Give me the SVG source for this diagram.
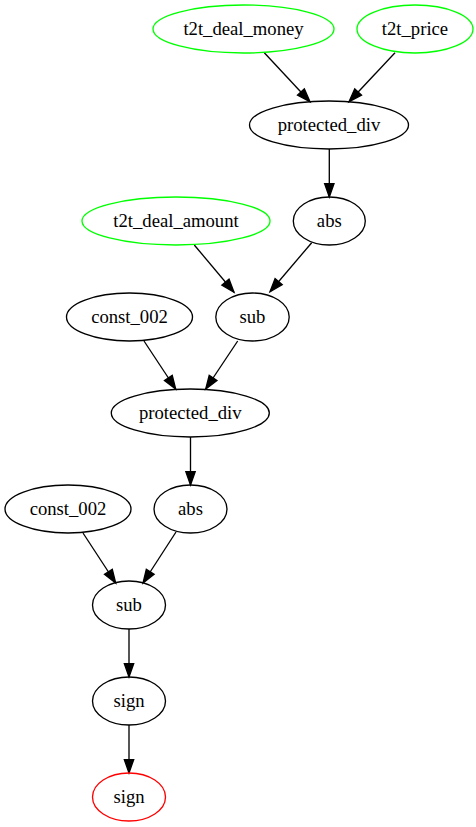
<svg xmlns="http://www.w3.org/2000/svg" width="476" height="827" viewBox="0 0 476 827">
<style>
.n ellipse{fill:none;stroke:#000;stroke-width:1.33}
.g ellipse{stroke:#00ff00}
.r ellipse{stroke:#ff0000}
text{font-family:"Liberation Serif","Times New Roman",serif;font-size:18.67px;text-anchor:middle;fill:#000}
.e line{stroke:#000;stroke-width:1.33;marker-end:url(#arr)}
</style>
<defs>
<marker id="arr" markerUnits="userSpaceOnUse" markerWidth="15" markerHeight="10" refX="13.33" refY="4.67" orient="auto" overflow="visible">
<path d="M0,0 L13.33,4.67 L0,9.33 Z" fill="#000" stroke="#000" stroke-width="1.33"/>
</marker>
</defs>
<rect width="476" height="827" fill="#fff"/>
<g id="edges" class="e">
<line x1="264.3" y1="52.7" x2="310" y2="101.7"/>
<line x1="395" y1="52.7" x2="349" y2="101.7"/>
<line x1="329.3" y1="149" x2="329.3" y2="197"/>
<line x1="311.7" y1="242.7" x2="270" y2="291.7"/>
<line x1="194.3" y1="245" x2="234" y2="292.3"/>
<line x1="144" y1="341" x2="175.7" y2="389"/>
<line x1="237.7" y1="341" x2="205.7" y2="389"/>
<line x1="190.5" y1="437" x2="190.5" y2="485"/>
<line x1="83" y1="533" x2="115.7" y2="583"/>
<line x1="176" y1="532" x2="143" y2="583"/>
<line x1="129" y1="629" x2="129" y2="677"/>
<line x1="129" y1="725" x2="129" y2="773"/>
</g>
<g id="t2t_deal_money" class="n g"><ellipse cx="243.5" cy="29" rx="90.5" ry="24"/><text x="243.5" y="34.6">t2t_deal_money</text></g>
<g id="t2t_price" class="n g"><ellipse cx="415" cy="29" rx="58" ry="24"/><text x="415" y="34.6">t2t_price</text></g>
<g id="protected_div_1" class="n"><ellipse cx="329" cy="125" rx="79.5" ry="24"/><text x="329" y="130.6">protected_div</text></g>
<g id="abs_1" class="n"><ellipse cx="329.3" cy="221" rx="36" ry="24"/><text x="329.3" y="226.6">abs</text></g>
<g id="t2t_deal_amount" class="n g"><ellipse cx="176" cy="221" rx="94" ry="24"/><text x="176" y="226.6">t2t_deal_amount</text></g>
<g id="sub_1" class="n"><ellipse cx="252.5" cy="317" rx="36.7" ry="24"/><text x="252.5" y="322.6">sub</text></g>
<g id="const_002_1" class="n"><ellipse cx="129.5" cy="317" rx="63" ry="24"/><text x="129.5" y="322.6">const_002</text></g>
<g id="protected_div_2" class="n"><ellipse cx="190.3" cy="413" rx="79" ry="24"/><text x="190.3" y="418.6">protected_div</text></g>
<g id="abs_2" class="n"><ellipse cx="190.5" cy="509" rx="36.5" ry="24"/><text x="190.5" y="514.6">abs</text></g>
<g id="const_002_2" class="n"><ellipse cx="68" cy="509" rx="63" ry="24"/><text x="68" y="514.6">const_002</text></g>
<g id="sub_2" class="n"><ellipse cx="129" cy="605" rx="36.5" ry="24"/><text x="129" y="610.6">sub</text></g>
<g id="sign_1" class="n"><ellipse cx="129" cy="701" rx="36.5" ry="24"/><text x="129" y="706.6">sign</text></g>
<g id="sign_2" class="n r"><ellipse cx="129" cy="797" rx="36.5" ry="24"/><text x="129" y="802.6">sign</text></g>
</svg>
